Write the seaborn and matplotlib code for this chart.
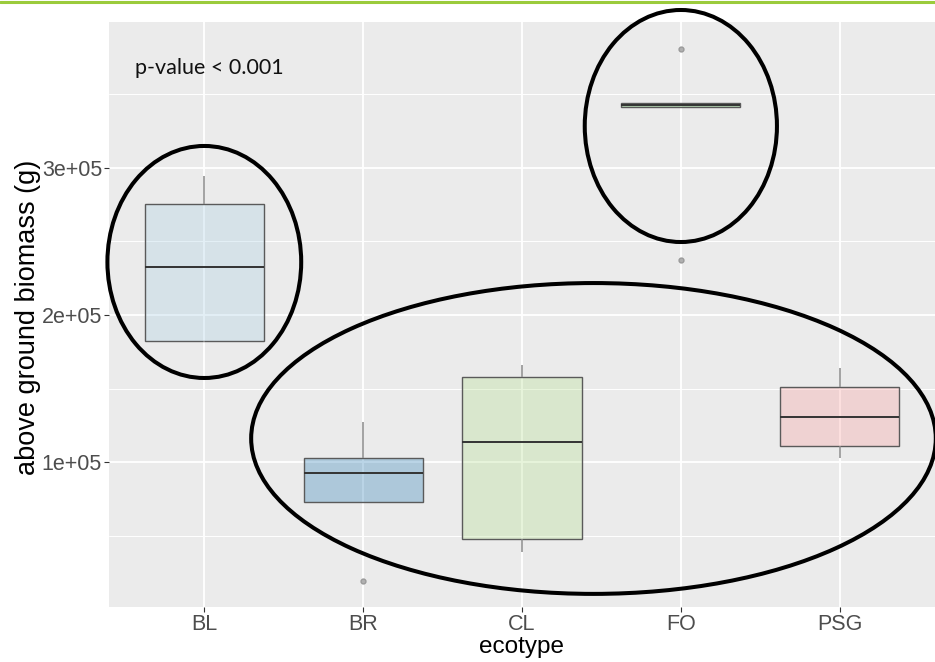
import numpy as np
import pandas as pd
import matplotlib
matplotlib.use("Agg")
import matplotlib.pyplot as plt
from matplotlib.patches import Ellipse
from matplotlib.colors import to_rgba
from matplotlib.ticker import FixedLocator, FixedFormatter
import seaborn as sns

# Above-ground biomass observations (g) per ecotype
ecotypes = ["BL", "BR", "CL", "FO", "PSG"]
bl_biomass = [182000, 182600, 232800, 275400, 294400]
br_biomass = [19600, 72800, 92900, 102700, 127100]
cl_biomass = [39300, 47700, 114000, 157900, 166000]
fo_biomass = [237300, 341000, 342400, 344100, 380600]
psg_biomass = [102700, 111300, 130800, 151100, 163800]

y_ticks = [100000, 200000, 300000]
y_tick_labels = ["1e+05", "2e+05", "3e+05"]
y_minor = [50000, 150000, 250000, 350000]
p_label = "p-value < 0.001"

# Highlight rings: (centre ecotype index, centre value, width in categories, height in g)
rings = [
    (0.0, 236000, 1.22, 157500),
    (3.0, 328300, 1.21, 157500),
    (2.45, 116200, 4.31, 211000),
]

df = pd.DataFrame({
    "ecotype": np.repeat(ecotypes, 5),
    "biomass": bl_biomass + br_biomass + cl_biomass + fo_biomass + psg_biomass,
})

sns.set_theme(style="darkgrid", rc={
    "axes.facecolor": "#EBEBEB",
    "grid.color": "white",
    "axes.edgecolor": "#EBEBEB",
})
plt.rcParams["font.family"] = ["Liberation Sans", "DejaVu Sans"]

fig = plt.figure(figsize=(9.35, 6.62), dpi=100)
ax = fig.add_axes([109 / 935, 1 - 607 / 662, 826 / 935, 585 / 662])

palette = sns.color_palette("Paired", 5)
sns.boxplot(
    data=df, x="ecotype", y="biomass", hue="ecotype", order=ecotypes,
    hue_order=ecotypes, palette=palette, legend=False, width=0.75, ax=ax,
    whis=1.5, showcaps=False, linewidth=1.0,
    boxprops=dict(edgecolor="#5a5a5a"),
    whiskerprops=dict(color="#8a8a8a", linewidth=1.1),
    medianprops=dict(color="#333333", linewidth=1.4),
    flierprops=dict(marker="o", markerfacecolor="#b0b0b0",
                    markeredgecolor="#9a9a9a", markersize=3.5),
)
for patch, col in zip(ax.patches, palette):
    patch.set_facecolor(to_rgba(col, 0.3))

ax.set_xlim(-0.6, 4.6)
ax.set_ylim(1800, 398900)
ax.yaxis.set_major_locator(FixedLocator(y_ticks))
ax.yaxis.set_major_formatter(FixedFormatter(y_tick_labels))
ax.yaxis.set_minor_locator(FixedLocator(y_minor))
ax.grid(which="major", color="white", linewidth=1.3)
ax.grid(which="minor", axis="y", color="white", linewidth=0.7)
for s in ax.spines.values():
    s.set_visible(False)

ax.tick_params(axis="both", which="major", bottom=True, left=True, length=3.5,
               width=0.8, color="#333333", labelcolor="#4d4d4d", pad=1.5)
ax.tick_params(axis="x", labelsize=15.5)
ax.tick_params(axis="y", labelsize=15.5)
ax.tick_params(axis="y", which="minor", left=False)

ax.set_xlabel("ecotype", fontsize=17.5, color="black", va="top")
ax.xaxis.set_label_coords(0.5, -0.049)
ax.set_ylabel("above ground biomass (g)", fontsize=19.5, color="black")
ax.yaxis.set_label_coords(-0.082, 0.495)

ax.text(0.0315, 0.9106, p_label, transform=ax.transAxes, fontsize=15.5,
        family=["Lato", "DejaVu Sans"], color="#111111", va="baseline", ha="left")

for cx, cy, w, h in rings:
    ax.add_patch(Ellipse((cx, cy), w, h, fill=False, edgecolor="black",
                         linewidth=2.9, clip_on=False, zorder=5))

# Accent rule across the top edge
fig.add_artist(plt.Line2D([0, 1], [1 - 1.5 / 662, 1 - 1.5 / 662],
                          transform=fig.transFigure, color="#9bcb3c", linewidth=2.2))

fig.savefig("out.png", dpi=100)
